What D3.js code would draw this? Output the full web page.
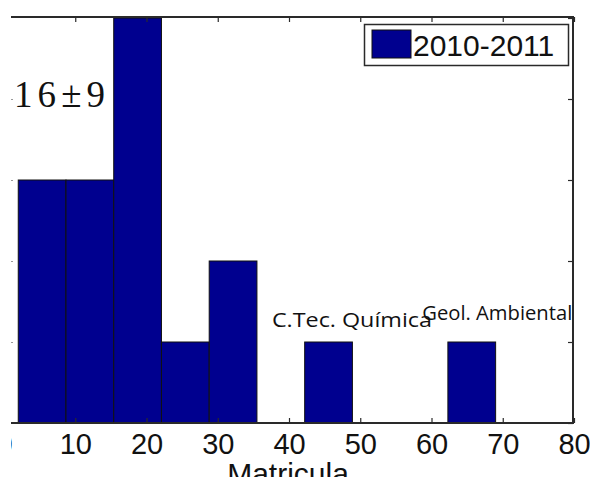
<!DOCTYPE html>
<html><head><meta charset="utf-8">
<script src="https://cdn.jsdelivr.net/npm/d3@7"></script>
<style>body{margin:0;background:#fff}svg{display:block}</style>
</head><body>
<script>
const binEdges = [2, 8.7, 15.4, 22.1, 28.8, 35.5, 42.2, 48.9, 55.6, 62.3, 69];
const counts = [3, 3, 5, 1, 2, 0, 1, 0, 0, 1];
const xTicks = [0, 10, 20, 30, 40, 50, 60, 70, 80];
const yTicks = [0, 1, 2, 3, 4, 5];
const legendLabel = "2010-2011";
const statText = "16\u00B19";
const notes = [{label: "C.Tec. Química", x: 37.6, y: 1}, {label: "Geol. Ambiental", x: 58.7, y: 1}];
const xLabel = "Matricula";

const W = 590, H = 477;
const svg = d3.select("body").append("svg").attr("width", W).attr("height", H);
const x = d3.scaleLinear().domain([0, 80]).range([4, 574]);
const y = d3.scaleLinear().domain([0, 5]).range([423, 18]);

svg.append("clipPath").attr("id", "c").append("rect").attr("x", 11).attr("y", 0).attr("width", W).attr("height", H);
const g = svg.append("g").attr("clip-path", "url(#c)");

const axisCol = "#2a2a2a";
const bins = counts.map((c, i) => ({x0: binEdges[i], x1: binEdges[i + 1], c}));
g.selectAll("rect.bar").data(bins.filter(d => d.c > 0)).join("rect")
  .attr("x", d => x(d.x0)).attr("y", d => y(d.c))
  .attr("width", d => x(d.x1) - x(d.x0)).attr("height", d => y(0) - y(d.c))
  .attr("fill", "#00008f").attr("stroke", "#111").attr("stroke-width", 1);

const bottomAx = d3.axisBottom(x).tickValues(xTicks).tickSize(-5).tickFormat(d => d);
const bA = g.append("g").attr("transform", `translate(0,${y(0)})`).call(bottomAx);
bA.select(".domain").remove();
bA.selectAll(".tick line").attr("stroke", axisCol).attr("stroke-width", 1.2);
bA.selectAll(".tick text").attr("font-family", "Liberation Sans, Arial, sans-serif").attr("font-size", 29)
  .attr("fill", "#111").attr("y", 0).attr("dy", 31);

const topAx = d3.axisTop(x).tickValues(xTicks).tickSize(-5).tickFormat("");
const tA = g.append("g").attr("transform", `translate(0,${y(5)-1})`).call(topAx);
tA.select(".domain").remove();
tA.selectAll(".tick line").attr("stroke", axisCol).attr("stroke-width", 1.2);

const rightAx = d3.axisRight(y).tickValues(yTicks).tickSize(-5).tickFormat("");
const rA = g.append("g").attr("transform", `translate(${x(80) - 1},0)`).call(rightAx);
rA.select(".domain").remove();
rA.selectAll(".tick line").attr("stroke", axisCol).attr("stroke-width", 1.2);

const leftAx = d3.axisLeft(y).tickValues(yTicks.slice(1, 5)).tickSize(-9).tickFormat("");
const lA = g.append("g").attr("transform", `translate(4,0)`).call(leftAx);
lA.select(".domain").remove();
lA.selectAll(".tick line").attr("stroke", "#999").attr("stroke-width", 1);

g.append("line").attr("x1", 0).attr("x2", x(80)).attr("y1", y(0)).attr("y2", y(0)).attr("stroke", axisCol).attr("stroke-width", 2);
g.append("line").attr("x1", 0).attr("x2", x(80)).attr("y1", y(5) - 1).attr("y2", y(5) - 1).attr("stroke", axisCol).attr("stroke-width", 2);
g.append("line").attr("x1", x(80) - 1).attr("x2", x(80) - 1).attr("y1", y(5) - 2).attr("y2", y(0)).attr("stroke", axisCol).attr("stroke-width", 2);

const lg = g.append("g");
lg.append("rect").attr("x", 364.5).attr("y", 24.5).attr("width", 204).attr("height", 41)
  .attr("fill", "#fff").attr("stroke", axisCol).attr("stroke-width", 1.5);
lg.append("rect").attr("x", 372).attr("y", 30).attr("width", 39).attr("height", 28)
  .attr("fill", "#00008f").attr("stroke", "#111").attr("stroke-width", 1);
lg.append("text").attr("x", 413).attr("y", 56).text(legendLabel)
  .attr("font-family", "Liberation Sans, Arial, sans-serif").attr("font-size", 30).attr("fill", "#111");

g.append("text").attr("x", 14).attr("y", 107).text(statText)
  .attr("font-family", "Liberation Serif, Times New Roman, serif").attr("font-size", 37)
  .attr("textLength", 91).attr("lengthAdjust", "spacing").attr("fill", "#111");

g.selectAll("text.note").data(notes).join("text").attr("class", "note")
  .attr("x", d => x(d.x)).attr("y", (d, i) => y(d.y) - (i === 0 ? 15 : 22))
  .attr("text-anchor", "start").text(d => d.label)
  .attr("font-family", "Open Sans, Noto Sans, sans-serif").attr("font-size", 20.5)
  .attr("textLength", (d, i) => i === 0 ? 160 : 150).attr("lengthAdjust", "spacingAndGlyphs").attr("fill", "#111");

g.append("text").attr("x", 288).attr("y", 484).attr("text-anchor", "middle").text(xLabel)
  .attr("font-family", "Liberation Sans, Arial, sans-serif").attr("font-size", 30).attr("fill", "#111");
</script>
</body></html>
